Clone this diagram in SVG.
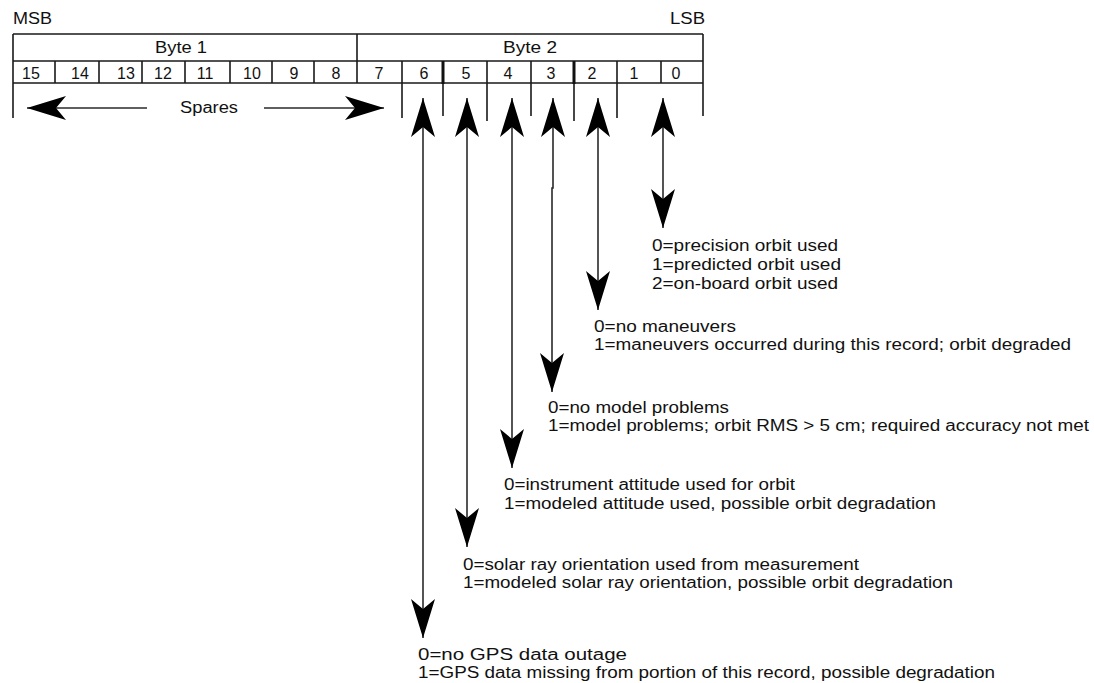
<svg xmlns="http://www.w3.org/2000/svg" width="1094" height="683" viewBox="0 0 1094 683">
  <defs>
    <style>
      text { font-family: "Liberation Sans", Arial, Helvetica, sans-serif; fill: #111; }
      .lbl { font-size: 16px; }
      .bit { font-size: 16px; text-anchor: middle; }
      .grid { stroke: #1a1a1a; stroke-width: 1.6; fill: none; }
      .thick { stroke: #111; stroke-width: 3; }
      .shaft { stroke: #2a2a2a; stroke-width: 1.6; fill: none; marker-start: url(#head); marker-end: url(#head); }
      .oneway { stroke: #2a2a2a; stroke-width: 1.6; fill: none; marker-end: url(#head); }
    </style>
    <!-- barbed dart arrowhead, tip at origin -->
    <marker id="head" markerUnits="userSpaceOnUse" markerWidth="42" markerHeight="28" viewBox="-41 -14 42 28" refX="0" refY="0" orient="auto-start-reverse">
      <path d="M0,0 L-39,-12 L-29,0 L-39,12 Z" fill="#000"/>
    </marker>
  </defs>

  <rect width="1094" height="683" fill="#fff"/>

  <!-- word header -->
  <g id="header">
    <text class="lbl" x="13" y="24" textLength="39" lengthAdjust="spacingAndGlyphs">MSB</text>
    <text class="lbl" x="670" y="24" textLength="35" lengthAdjust="spacingAndGlyphs">LSB</text>
  </g>

  <!-- two-byte register table -->
  <g id="register">
    <path class="grid" d="M13,34 H703 M13,61 H703 M13,83 H703 M13,34 V118 M703,34 V116 M357,34 V83"/>
    <path class="grid" d="M55,61 V83 M99,61 V83 M142,61 V83 M185,61 V83 M230,61 V83 M272,61 V83 M314,61 V83 M661,61 V83"/>
    <path class="grid" d="M402,61 V118 M443,83 V116 M487,61 V121 M531,61 V116 M574,83 V121 M617,61 V118"/>
    <path class="thick" d="M443,61 V84 M574,61 V84"/>
    <text class="lbl" x="155" y="53" textLength="52" lengthAdjust="spacingAndGlyphs">Byte 1</text>
    <text class="lbl" x="503" y="53" textLength="54" lengthAdjust="spacingAndGlyphs">Byte 2</text>
    <g id="bit-numbers">
      <text class="bit" x="31" y="79">15</text>
      <text class="bit" x="80" y="79">14</text>
      <text class="bit" x="126" y="79">13</text>
      <text class="bit" x="163" y="79">12</text>
      <text class="bit" x="205" y="79">11</text>
      <text class="bit" x="252" y="79">10</text>
      <text class="bit" x="294" y="79">9</text>
      <text class="bit" x="336" y="79">8</text>
      <text class="bit" x="379" y="79">7</text>
      <text class="bit" x="424" y="79">6</text>
      <text class="bit" x="466" y="79">5</text>
      <text class="bit" x="508" y="79">4</text>
      <text class="bit" x="551" y="79">3</text>
      <text class="bit" x="592" y="79">2</text>
      <text class="bit" x="634" y="79">1</text>
      <text class="bit" x="676" y="79">0</text>
    </g>
  </g>

  <!-- spare bits 15..7 -->
  <g id="spares">
    <text class="lbl" x="180" y="113" textLength="58" lengthAdjust="spacingAndGlyphs">Spares</text>
  </g>

  <!-- bit flag descriptions -->
  <g id="bit0-label">
    <text class="lbl" x="652" y="251" textLength="186" lengthAdjust="spacingAndGlyphs">0=precision orbit used</text>
    <text class="lbl" x="652" y="270" textLength="189" lengthAdjust="spacingAndGlyphs">1=predicted orbit used</text>
    <text class="lbl" x="652" y="289" textLength="186" lengthAdjust="spacingAndGlyphs">2=on-board orbit used</text>
  </g>
  <g id="bit2-label">
    <text class="lbl" x="594" y="332" textLength="142" lengthAdjust="spacingAndGlyphs">0=no maneuvers</text>
    <text class="lbl" x="594" y="350" textLength="477" lengthAdjust="spacingAndGlyphs">1=maneuvers occurred during this record; orbit degraded</text>
  </g>
  <g id="bit3-label">
    <text class="lbl" x="548" y="413" textLength="181" lengthAdjust="spacingAndGlyphs">0=no model problems</text>
    <text class="lbl" x="548" y="431" textLength="541" lengthAdjust="spacingAndGlyphs">1=model problems; orbit RMS &gt; 5 cm; required accuracy not met</text>
  </g>
  <g id="bit4-label">
    <text class="lbl" x="504" y="490" textLength="291" lengthAdjust="spacingAndGlyphs">0=instrument attitude used for orbit</text>
    <text class="lbl" x="504" y="509" textLength="432" lengthAdjust="spacingAndGlyphs">1=modeled attitude used, possible orbit degradation</text>
  </g>
  <g id="bit5-label">
    <text class="lbl" x="463" y="570" textLength="396" lengthAdjust="spacingAndGlyphs">0=solar ray orientation used from measurement</text>
    <text class="lbl" x="463" y="588" textLength="490" lengthAdjust="spacingAndGlyphs">1=modeled solar ray orientation, possible orbit degradation</text>
  </g>
  <g id="bit6-label">
    <text class="lbl" x="418" y="660" textLength="209" lengthAdjust="spacingAndGlyphs">0=no GPS data outage</text>
    <text class="lbl" x="418" y="678" textLength="577" lengthAdjust="spacingAndGlyphs">1=GPS data missing from portion of this record, possible degradation</text>
  </g>

  <!-- connectors -->
  <g id="connectors">
    <path class="oneway" d="M147,108 H27"/>
    <path class="oneway" d="M264,108 H384"/>
    <path class="shaft" d="M663,98 V228"/>
    <path class="shaft" d="M598,98 V310"/>
    <path class="shaft" d="M553,98 V188 H552 V392"/>
    <path class="shaft" d="M512,98 V468"/>
    <path class="shaft" d="M467,98 V547"/>
    <path class="shaft" d="M423,98 V638"/>
  </g>
</svg>
